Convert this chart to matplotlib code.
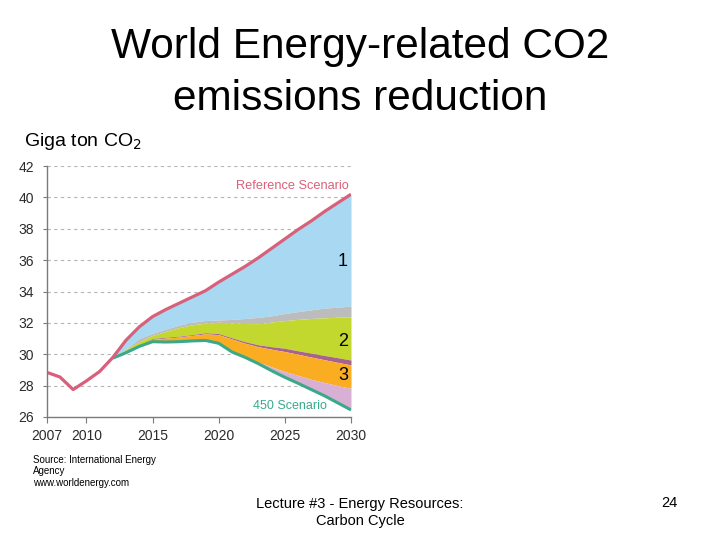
import matplotlib
matplotlib.use("Agg")
import matplotlib.pyplot as plt

# --- data ---
years = list(range(2007, 2031))
reference = [28.85, 28.55, 27.75, 28.3, 28.9, 29.8, 30.9, 31.75, 32.4, 32.85, 33.25, 33.65,
             34.05, 34.6, 35.1, 35.6, 36.15, 36.75, 37.35, 37.95, 38.5, 39.1, 39.65, 40.2]

sc_years = list(range(2012, 2031))
grey_top = [29.75, 30.35, 31.0, 31.33, 31.6, 31.85, 32.04, 32.15, 32.18, 32.22, 32.28, 32.35,
            32.45, 32.6, 32.72, 32.83, 32.94, 33.0, 33.07]
yellow_top = [29.75, 30.3, 30.8, 31.2, 31.45, 31.7, 31.88, 31.98, 32.04, 32.0, 31.96, 31.95,
              32.05, 32.15, 32.22, 32.28, 32.32, 32.36, 32.38]
purple_top = [29.75, 30.15, 30.6, 31.0, 31.08, 31.15, 31.25, 31.37, 31.32, 31.05, 30.8, 30.6,
              30.48, 30.38, 30.22, 30.07, 29.92, 29.78, 29.63]
orange_top = [29.75, 30.12, 30.55, 30.95, 31.03, 31.1, 31.2, 31.3, 31.25, 30.97, 30.7, 30.48,
              30.32, 30.17, 30.0, 29.82, 29.65, 29.48, 29.32]
pink_top = [29.75, 30.1, 30.5, 30.8, 30.78, 30.8, 30.85, 30.88, 30.7, 30.15, 29.82, 29.5,
            29.2, 28.9, 28.65, 28.4, 28.2, 28.0, 27.83]
s450 = [29.75, 30.1, 30.5, 30.8, 30.78, 30.8, 30.85, 30.88, 30.7, 30.15, 29.8, 29.4,
        28.95, 28.53, 28.15, 27.75, 27.35, 26.9, 26.45]

ref_on_sc = reference[years.index(2012):]

yticks = list(range(26, 43, 2))
xticks = [2007, 2010, 2015, 2020, 2025, 2030]

plt.rcParams['font.family'] = ['Liberation Sans', 'DejaVu Sans']

fig = plt.figure(figsize=(7.2, 5.4), dpi=100)
ax = fig.add_axes([46.7 / 720, 123 / 540, 304.3 / 720, 251 / 540])

ax.fill_between(sc_years, grey_top, ref_on_sc, color='#a9d8f2', lw=0)
ax.fill_between(sc_years, yellow_top, grey_top, color='#bdbcbc', lw=0)
ax.fill_between(sc_years, purple_top, yellow_top, color='#c3d82f', lw=0)
ax.fill_between(sc_years, orange_top, purple_top, color='#a8638d', lw=0)
ax.fill_between(sc_years, pink_top, orange_top, color='#fbad22', lw=0)
ax.fill_between(sc_years, s450, pink_top, color='#d8b0d3', lw=0)
ax.plot(sc_years, s450, color='#3aa98a', lw=2.2, solid_capstyle='butt')
ax.plot(years, reference, color='#d9607a', lw=2.3, solid_capstyle='butt')

ax.set_xlim(2007, 2030)
ax.set_ylim(26, 42)
ax.set_xticks(xticks)
ax.set_yticks(yticks)
for y in yticks[1:]:
    ax.axhline(y, color='#b5b5b5', lw=0.8, ls=(0, (3, 3)), zorder=0)

for s in ['top', 'right']:
    ax.spines[s].set_visible(False)
for s in ['left', 'bottom']:
    ax.spines[s].set_color('#7a7a7a')
    ax.spines[s].set_linewidth(1.0)
ax.tick_params(axis='y', length=3, pad=6, color='#7a7a7a', labelsize=10, labelcolor='#2b2b2b')
ax.tick_params(axis='x', length=4.5, pad=4, color='#7a7a7a', labelsize=10, labelcolor='#2b2b2b')

ax.text(2029.8, 40.7, 'Reference Scenario', color='#d9607a', fontsize=9.2,
        ha='right', va='center')
ax.text(2028.2, 26.7, '450 Scenario', color='#3aa98a', fontsize=9,
        ha='right', va='center')

# slide texts
fig.text(0.5, 1 - 58 / 540, 'World Energy-related CO2', fontsize=30.5, ha='center', va='baseline')
fig.text(0.5, 1 - 110 / 540, 'emissions reduction', fontsize=30.5, ha='center', va='baseline')
fig.text(24 / 720, 1 - 141 / 540, 'Giga ton CO$_2$', fontsize=14, ha='left', va='center')
fig.text(343 / 720, 1 - 261 / 540, '1', fontsize=13, ha='center', va='center')
fig.text(343 / 720, 1 - 341 / 540, '2', fontsize=13, ha='center', va='center')
fig.text(343 / 720, 1 - 376 / 540, '3', fontsize=13, ha='center', va='center')
fig.text(33 / 720, 1 - 460 / 540, 'Source: International Energy', fontsize=7, ha='left', va='center')
fig.text(33 / 720, 1 - 471.5 / 540, 'Agency', fontsize=7, ha='left', va='center')
fig.text(33 / 720, 1 - 483 / 540, 'www.worldenergy.com', fontsize=7, ha='left', va='center')
fig.text(360 / 720, 1 - 504 / 540, 'Lecture #3 - Energy Resources:',
         fontsize=10.5, ha='center', va='center')
fig.text(360 / 720, 1 - 521 / 540, 'Carbon Cycle', fontsize=10.5, ha='center', va='center')
fig.text(669 / 720, 1 - 503 / 540, '24', fontsize=10.5, ha='center', va='center')

fig.savefig('out.png', dpi=100)
